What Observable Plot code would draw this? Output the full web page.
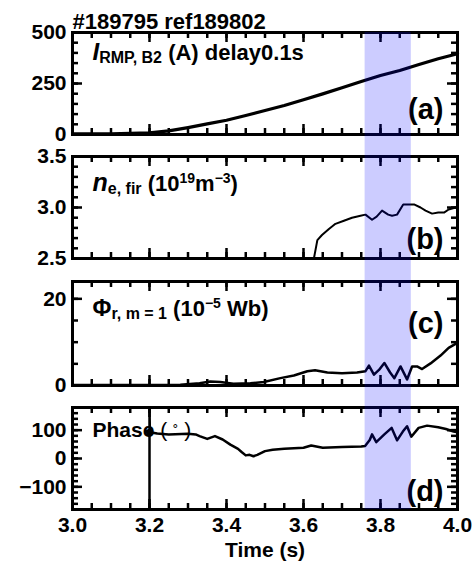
<!DOCTYPE html>
<html><head><meta charset="utf-8">
<script src="https://cdn.jsdelivr.net/npm/d3@7"></script>
<script src="https://cdn.jsdelivr.net/npm/@observablehq/plot@0.6"></script>
<style>
body{margin:0;background:#fff;}
#chart{position:relative;width:474px;height:562px;overflow:hidden;}
#chart svg{position:absolute;left:0;overflow:visible;}
</style></head><body><div id="chart"></div>
<script>
// ---------- data ----------
const shotTitle = "#189795 ref189802";
const timeLabels = [3.0, 3.2, 3.4, 3.6, 3.8, 4.0];
const shadeInterval = [3.76, 3.88];

const irmpTime  = [3.0, 3.1, 3.2, 3.25, 3.3, 3.35, 3.4, 3.45, 3.5, 3.55, 3.6, 3.65, 3.7, 3.75, 3.8, 3.85, 3.9, 3.95, 4.0];
const irmpValue = [3, 3, 8, 18, 34, 52, 70, 93, 118, 142, 170, 199, 229, 260, 289, 314, 343, 371, 396];

const neTime  = [3.627, 3.636, 3.648, 3.666, 3.683, 3.705, 3.726, 3.748, 3.761, 3.778, 3.79, 3.804, 3.82, 3.83, 3.843, 3.859, 3.875, 3.887, 3.904, 3.917, 3.934, 3.95, 3.965, 3.977, 3.995, 4.0];
const neValue = [2.5, 2.68, 2.73, 2.79, 2.84, 2.87, 2.9, 2.92, 2.93, 2.88, 2.91, 2.97, 2.93, 2.92, 2.93, 3.03, 3.03, 3.03, 3.0, 2.97, 2.94, 2.95, 2.95, 2.98, 3.0, 3.0];

const phiTime  = [3.0, 3.2, 3.28, 3.33, 3.358, 3.384, 3.418, 3.462, 3.497, 3.54, 3.575, 3.61, 3.63, 3.662, 3.70, 3.739, 3.761, 3.770, 3.783, 3.796, 3.810, 3.825, 3.836, 3.852, 3.869, 3.882, 3.895, 3.908, 3.93, 3.956, 3.977, 3.995, 4.0];
const phiValue = [0.1, 0.1, 0.2, 0.5, 0.9, 0.8, 0.4, 0.5, 0.8, 1.7, 2.3, 3.3, 3.5, 3.0, 2.8, 3.0, 3.3, 4.6, 2.5, 3.6, 5.2, 3.0, 1.7, 4.4, 1.4, 4.4, 4.4, 3.8, 5.1, 6.9, 8.7, 9.6, 9.8];

const phaseTime  = [3.2, 3.2, 3.201, 3.22, 3.25, 3.3, 3.32, 3.33, 3.35, 3.37, 3.39, 3.41, 3.43, 3.44, 3.45, 3.46, 3.47, 3.48, 3.5, 3.52, 3.55, 3.6, 3.62, 3.65, 3.7, 3.75, 3.76, 3.772, 3.778, 3.789, 3.81, 3.829, 3.843, 3.858, 3.869, 3.88, 3.899, 3.921, 3.95, 3.97, 3.99, 4.0];
const phaseValue = [-180, 180, 93, 88, 85, 87, 85, 79, 69, 79, 67, 49, 34, 22, 11, 13, 8, 13, 26, 31, 34, 38, 46, 38, 41, 42, 44, 65, 85, 58, 85, 108, 64, 95, 114, 77, 108, 116, 110, 104, 95, 93];
const phaseMarkerTime = [3.2];
const phaseMarkerValue = [93];

// ---------- layout ----------
const W = 474, ML = 72, MR = 17, FW = W - ML - MR;
const X0 = 3, X1 = 4;
const FONT = "'Liberation Sans', Arial, sans-serif";
const chart = document.getElementById("chart");
const tk = {stroke: "#000", strokeWidth: 2.5, strokeOpacity: 1};

// tick marks drawn inward from the frame, lengths converted from pixels to data units
function frameTicks(xVals, yVals, len, domain, fh) {
  const [lo, hi] = domain;
  const dy = (hi - lo) * len / fh;
  const dx = (X1 - X0) * len / FW;
  return [
    Plot.ruleX(xVals, {x: d => d, y1: lo, y2: lo + dy, ...tk}),
    Plot.ruleX(xVals, {x: d => d, y1: hi - dy, y2: hi, ...tk}),
    Plot.ruleY(yVals, {y: d => d, x1: X0, x2: X0 + dx, ...tk}),
    Plot.ruleY(yVals, {y: d => d, x1: X1 - dx, x2: X1, ...tk})
  ];
}
function label(marker, dx, dy) {
  return Plot.text([marker], {text: d => d, frameAnchor: "top-left", dx, dy, lineAnchor: "bottom", textAnchor: "start", fontSize: 22, fontWeight: "bold"});
}
function letter(txt, dy) {
  return Plot.text([txt], {text: d => d, frameAnchor: "top-right", dx: -14, dy, lineAnchor: "bottom", textAnchor: "end", fontSize: 29, fontWeight: "bold"});
}
function rich(svg, marker, parts) {
  const t = [...svg.querySelectorAll("text")].find(e => e.textContent === marker);
  if (!t) return;
  t.textContent = "";
  let cur = 0;
  for (const p of parts) {
    const ts = document.createElementNS("http://www.w3.org/2000/svg", "tspan");
    ts.textContent = p.t;
    if (p.size) ts.setAttribute("font-size", p.size);
    if (p.italic) ts.setAttribute("font-style", "italic");
    if (p.weight) ts.setAttribute("font-weight", p.weight);
    const s = p.shift || 0;
    if (s !== cur) { ts.setAttribute("dy", s - cur); cur = s; }
    t.appendChild(ts);
  }
}

const xMinor = d3.range(3.0, 4.0001, 0.05);

const panelSpecs = [
  {top: 0, mt: 32, fh: 102, mb: 10, domain: [0, 500], labels: [0, 250, 500], minor: d3.range(0, 500.01, 50), fmt: d3.format("d"),
   time: irmpTime, value: irmpValue, sw: 3.2, letter: "(a)", letterDy: 86},
  {top: 146, mt: 10, fh: 102, mb: 10, domain: [2.5, 3.5], labels: [2.5, 3.0, 3.5], minor: d3.range(2.5, 3.5001, 0.1), fmt: d3.format(".1f"),
   time: neTime, value: neValue, sw: 2, letter: "(b)", letterDy: 92},
  {top: 271, mt: 10, fh: 104, mb: 10, domain: [0, 24], labels: [0, 20], minor: d3.range(0, 24.01, 5), fmt: d3.format("d"),
   time: phiTime, value: phiValue, sw: 2.5, letter: "(c)", letterDy: 51},
  {top: 397, mt: 10, fh: 102, mb: 53, domain: [-180, 180], labels: [-100, 0, 100], minor: d3.range(-180, 180.01, 20), fmt: undefined,
   time: phaseTime, value: phaseValue, sw: 2.5, letter: "(d)", letterDy: 93}
];

const labelA = "IRMP, B2 (A) delay0.1s";
const labelB = "ne, fir (1019m−3)";
const labelC = "Φr, m = 1 (10−5 Wb)";
const labelD = "Phase (˚)";

panelSpecs.forEach((p, i) => {
  const marks = [
    Plot.line(p.value, {x: p.time, y: p.value, stroke: "black", strokeWidth: p.sw}),
    ...frameTicks(xMinor, p.minor, 6, p.domain, p.fh),
    ...frameTicks(timeLabels, p.labels, 10, p.domain, p.fh),
    Plot.frame({stroke: "black", strokeWidth: 3}),
    Plot.axisY(p.labels, {tickSize: 0, tickPadding: 6, tickFormat: p.fmt, label: null, fontSize: 21, fontWeight: "bold"}),
    letter(p.letter, p.letterDy)
  ];
  if (i === 0) {
    marks.push(label(labelA, 20, 27));
    marks.push(Plot.text([shotTitle], {text: d => d, frameAnchor: "top-left", dy: -4, lineAnchor: "bottom", textAnchor: "start", fontSize: 22, fontWeight: "bold"}));
  }
  if (i === 1) marks.push(label(labelB, 20, 34));
  if (i === 2) marks.push(label(labelC, 20, 34));
  if (i === 3) {
    marks.push(label(labelD, 20, 29));
    marks.push(Plot.dot(phaseMarkerValue, {x: phaseMarkerTime, y: phaseMarkerValue, r: 3.5, fill: "black"}));
    marks.push(Plot.axisX(timeLabels, {tickSize: 0, tickPadding: 8, tickFormat: d3.format(".1f"), label: null, fontSize: 21, fontWeight: "bold"}));
    marks.push(Plot.text(["Time (s)"], {text: d => d, frameAnchor: "bottom", dy: 47, lineAnchor: "bottom", fontSize: 21, fontWeight: "bold"}));
  }
  const svg = Plot.plot({
    width: W, height: p.mt + p.fh + p.mb,
    marginLeft: ML, marginRight: MR, marginTop: p.mt, marginBottom: p.mb,
    x: {domain: [X0, X1], axis: i === 3 ? undefined : null},
    y: {domain: p.domain, axis: undefined},
    style: {background: "transparent", fontFamily: FONT, fontSize: "21px", fontWeight: "bold", color: "black", overflow: "visible"},
    marks
  });
  svg.style.top = p.top + "px";
  chart.appendChild(svg);
  if (i === 0) rich(svg, labelA, [{t: "I", italic: true, size: 24}, {t: "RMP, B2", size: 16, shift: 3}, {t: " (A) delay0.1s", size: 22, shift: 0}]);
  if (i === 1) rich(svg, labelB, [{t: "n", italic: true, size: 25}, {t: "e, fir", size: 16, shift: 3}, {t: " (10", size: 22, shift: 0}, {t: "19", size: 14, shift: -8}, {t: "m", size: 22, shift: 0}, {t: "−3", size: 14, shift: -8}, {t: ")", size: 22, shift: 0}]);
  if (i === 2) rich(svg, labelC, [{t: "Φ", size: 23}, {t: "r, m = 1", size: 16, shift: 3}, {t: " (10", size: 22, shift: 0}, {t: "−5", size: 14, shift: -8}, {t: " Wb)", size: 22, shift: 0}]);
  if (i === 3) rich(svg, labelD, [{t: "Phase", size: 21}, {t: " ( ", size: 21, weight: "normal"}, {t: "˚", size: 16, weight: "normal"}, {t: " )", size: 21, weight: "normal"}]);
});

// shaded interval overlay across all panels
const overlay = Plot.plot({
  width: W, height: 477, marginLeft: ML, marginRight: MR, marginTop: 0, marginBottom: 0,
  x: {domain: [X0, X1], axis: null},
  style: {background: "transparent", overflow: "visible"},
  marks: [Plot.rect([shadeInterval], {x1: d => d[0], x2: d => d[1], fill: "blue", fillOpacity: 0.2})]
});
overlay.style.top = "32px";
overlay.style.pointerEvents = "none";
chart.appendChild(overlay);
</script>
</body></html>
